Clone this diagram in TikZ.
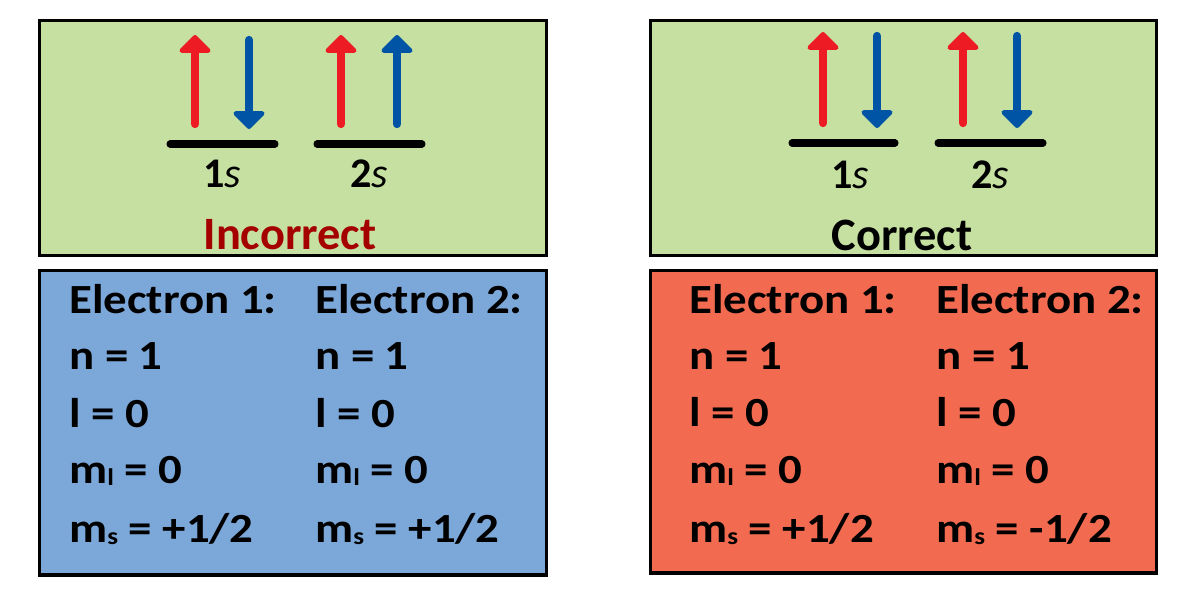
\documentclass[tikz,border=0pt]{standalone}
\usepackage{fontspec}
\setmainfont{Carlito}
\newfontfamily\tablefont{Carlito}[FakeStretch=1.13]
\usetikzlibrary{arrows.meta, positioning}
\definecolor{orbgreen}{HTML}{C5E0A0}
\definecolor{tblblue}{HTML}{7BA7D9}
\definecolor{tblorange}{HTML}{F26B50}
\definecolor{spinred}{HTML}{ED1C24}
\definecolor{spinblue}{HTML}{0054A6}
\definecolor{wrongred}{HTML}{A50000}
\newcommand{\qsub}[1]{{\fontsize{17}{17}\selectfont\raisebox{-0.2ex}{#1}}}

\begin{document}
\begin{tikzpicture}[
  x=0.025cm, y=-0.025cm,
  panel/.style={rectangle, draw=black, line width=2.2pt, minimum width=12.65cm, inner sep=0pt},
  qnum/.style={anchor=base west, inner sep=0pt, font=\tablefont\bfseries\fontsize{29.5}{30}\selectfont},
  verdict/.style={anchor=base, inner sep=0pt, font=\bfseries\fontsize{33}{35}\selectfont},
  orblabel/.style={anchor=base, inner sep=0pt, font=\fontsize{30}{30}\selectfont},
  level/.style={line width=5pt, line cap=round},
  spin/.style={line width=5.9pt, line cap=round, -{Triangle[width=26pt, length=13.5pt, round]}},
]
\useasboundingbox (0,0) rectangle (1200,600);

% panels
\node[panel, fill=orbgreen, minimum height=5.87cm] (wrongtop) at (293,137.75) {};
\node[panel, fill=tblblue, minimum height=7.61cm] (wrongtbl) at (293,422.75) {};
\node[panel, fill=orbgreen, minimum height=5.87cm] (righttop) at (903.5,137.75) {};
\node[panel, fill=tblorange, minimum height=7.56cm] (righttbl) at (903.5,421.75) {};

% incorrect filling
\draw[level] (170,144) -- (275,144);
\draw[level] (317,144) -- (422,144);
\draw[spin, spinred] (195,124) -- (195,35);
\draw[spin, spinblue] (249,40) -- (249,129);
\draw[spin, spinred] (341,124) -- (341,35);
\draw[spin, spinblue] (397,124) -- (397,35);
\node[orblabel] (wrong1s) at (222,187) {\textbf{1}\textit{s}};
\node[orblabel] (wrong2s) at (369,187) {\textbf{2}\textit{s}};
\node[verdict, text=wrongred] (wronglbl) at (290,249) {Incorrect};

% correct filling
\draw[level] (792,143) -- (895,143);
\draw[level] (938,143) -- (1043,143);
\draw[spin, spinred] (823,123) -- (823,32);
\draw[spin, spinblue] (877,36) -- (877,128);
\draw[spin, spinred] (963,123) -- (963,32);
\draw[spin, spinblue] (1017,36) -- (1017,128);
\node[orblabel] (right1s) at (850,188) {\textbf{1}\textit{s}};
\node[orblabel] (right2s) at (990,188) {\textbf{2}\textit{s}};
\node[verdict] (rightlbl) at (902,250) {Correct};

% quantum numbers
\node[qnum] (wa0) at (69,313) {Electron 1:};
\node[qnum] (wa1) at (69,369) {n = 1};
\node[qnum] (wa2) at (69,427) {l = 0};
\node[qnum] (wa3) at (69,483) {m\qsub{l} = 0};
\node[qnum] (wa4) at (69,542) {m\qsub{s} = +1/2};
\node[qnum] (wb0) at (315,313) {Electron 2:};
\node[qnum] (wb1) at (315,369) {n = 1};
\node[qnum] (wb2) at (315,427) {l = 0};
\node[qnum] (wb3) at (315,483) {m\qsub{l} = 0};
\node[qnum] (wb4) at (315,542) {m\qsub{s} = +1/2};

\node[qnum] (ra0) at (689,313) {Electron 1:};
\node[qnum] (ra1) at (689,369) {n = 1};
\node[qnum] (ra2) at (689,426) {l = 0};
\node[qnum] (ra3) at (689,483) {m\qsub{l} = 0};
\node[qnum] (ra4) at (689,542) {m\qsub{s} = +1/2};
\node[qnum] (rb0) at (936,313) {Electron 2:};
\node[qnum] (rb1) at (936,369) {n = 1};
\node[qnum] (rb2) at (936,426) {l = 0};
\node[qnum] (rb3) at (936,483) {m\qsub{l} = 0};
\node[qnum] (rb4) at (936,542) {m\qsub{s} = -1/2};
\end{tikzpicture}
\end{document}
